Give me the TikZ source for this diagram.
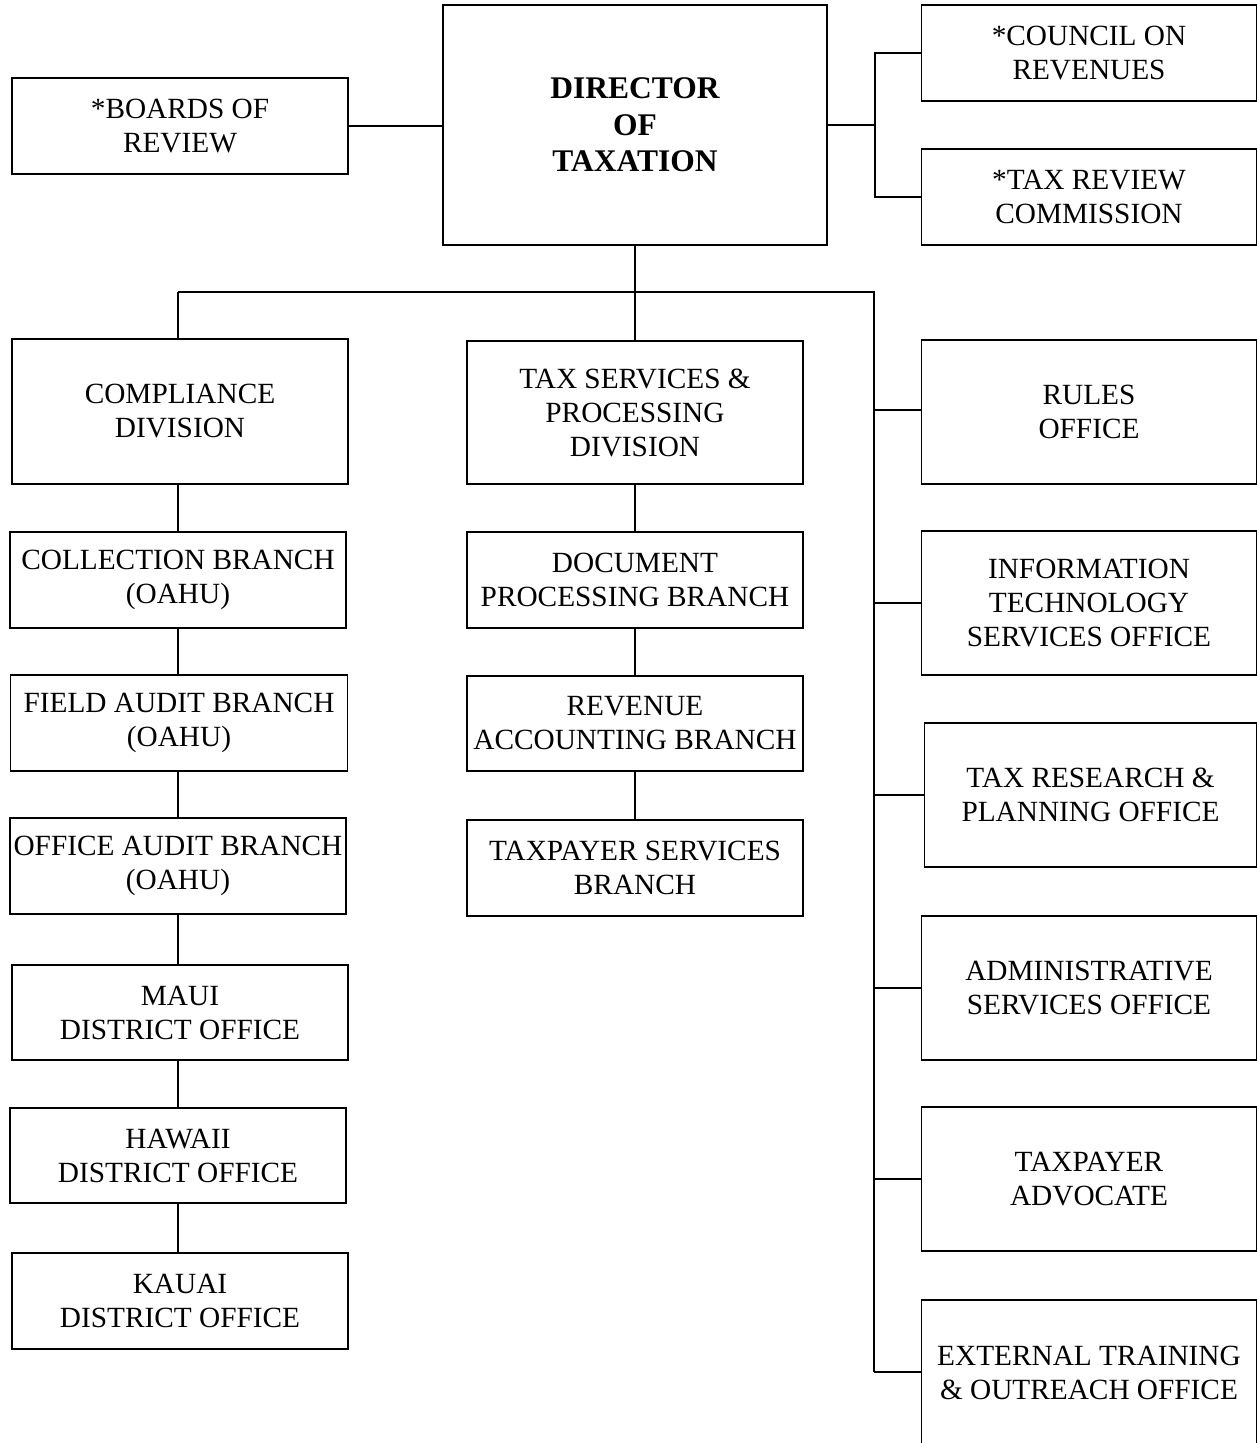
\documentclass[tikz,border=0pt]{standalone}
\usepackage{fontspec}
\setmainfont{Liberation Serif}
\begin{document}
\begin{tikzpicture}[x=1pt,y=-1pt,
  box/.style={draw=black,line width=1.6pt,inner sep=0pt,align=center,
    font=\fontsize{29.3}{34}\selectfont},
  conn/.style={draw=black,line width=1.5pt}]
\useasboundingbox (0,0) rectangle (1257,1443);
% top row
\node[box,minimum width=336pt,minimum height=96pt] (boards) at (180,126) {*BOARDS OF\\REVIEW};
\node[box,minimum width=384pt,minimum height=240pt,font=\fontsize{31.5}{36.5}\selectfont\bfseries] (director) at (635,125) {DIRECTOR\\OF\\TAXATION};
\node[box,minimum width=335pt,minimum height=96pt] (council) at (1089,53) {*COUNCIL ON\\REVENUES};
\node[box,minimum width=335pt,minimum height=96pt] (taxrev) at (1089,197) {*TAX REVIEW\\COMMISSION};
% left column
\node[box,minimum width=336pt,minimum height=145pt] (compliance) at (180,411.5) {COMPLIANCE\\DIVISION};
\node[box,minimum width=336pt,minimum height=96pt] (collection) at (178,580) {COLLECTION BRANCH\\(OAHU)};
\node[box,minimum width=337pt,minimum height=96pt] (field) at (179,723) {FIELD AUDIT BRANCH\\(OAHU)};
\node[box,minimum width=336pt,minimum height=96pt] (office) at (178,866) {OFFICE AUDIT BRANCH\\(OAHU)};
\node[box,minimum width=336pt,minimum height=95pt] (maui) at (180,1012.5) {MAUI\\DISTRICT OFFICE};
\node[box,minimum width=336pt,minimum height=95pt] (hawaii) at (178,1155.5) {HAWAII\\DISTRICT OFFICE};
\node[box,minimum width=336pt,minimum height=96pt] (kauai) at (180,1301) {KAUAI\\DISTRICT OFFICE};
% middle column
\node[box,minimum width=336pt,minimum height=143pt] (taxserv) at (635,412.5) {TAX SERVICES \&\\PROCESSING\\DIVISION};
\node[box,minimum width=336pt,minimum height=96pt] (document) at (635,580) {DOCUMENT\\PROCESSING BRANCH};
\node[box,minimum width=336pt,minimum height=95pt] (revenue) at (635,723.5) {REVENUE\\ACCOUNTING BRANCH};
\node[box,minimum width=336pt,minimum height=96pt] (taxpayer) at (635,868) {TAXPAYER SERVICES\\BRANCH};
% right column
\node[box,minimum width=335pt,minimum height=144pt] (rules) at (1089,412) {RULES\\OFFICE};
\node[box,minimum width=335pt,minimum height=144pt] (infotech) at (1089,603) {INFORMATION\\TECHNOLOGY\\SERVICES OFFICE};
\node[box,minimum width=332pt,minimum height=144pt] (research) at (1090.5,795) {TAX RESEARCH \&\\PLANNING OFFICE};
\node[box,minimum width=335pt,minimum height=144pt] (admin) at (1089,988) {ADMINISTRATIVE\\SERVICES OFFICE};
\node[box,minimum width=335pt,minimum height=144pt] (advocate) at (1089,1179) {TAXPAYER\\ADVOCATE};
\node[box,minimum width=335pt,minimum height=146pt] (external) at (1089,1373) {EXTERNAL TRAINING\\\& OUTREACH OFFICE};
% coordinates
\coordinate (rfork) at (875,125);
\coordinate (busL) at (178,292);
\coordinate (busR) at (874,292);
\coordinate (busEnd) at (874,1372);
% connectors top
\draw[conn] (boards.east) -- (director.west |- boards.east);
\draw[conn] (director.east |- rfork) -- (rfork);
\draw[conn] (council.west) -| (rfork);
\draw[conn] (taxrev.west) -| (rfork);
% main bus
\draw[conn] (director.south) -- (director.south |- busL);
\draw[conn] (busL) -- (busR) -- (busEnd);
\draw[conn] (busL) -- (busL |- compliance.north);
\draw[conn] (taxserv.north) -- (taxserv.north |- busL);
% left chain
\draw[conn] (compliance.south -| busL) -- (collection.north -| busL);
\draw[conn] (collection.south -| busL) -- (field.north -| busL);
\draw[conn] (field.south -| busL) -- (office.north -| busL);
\draw[conn] (office.south -| busL) -- (maui.north -| busL);
\draw[conn] (maui.south -| busL) -- (hawaii.north -| busL);
\draw[conn] (hawaii.south -| busL) -- (kauai.north -| busL);
% middle chain
\draw[conn] (taxserv.south) -- (document.north);
\draw[conn] (document.south) -- (revenue.north);
\draw[conn] (revenue.south) -- (taxpayer.north);
% right branches
\draw[conn] (rules.west |- 0,410) -- (busR |- 0,410);
\draw[conn] (infotech.west) -- (infotech.west -| busR);
\draw[conn] (research.west) -- (research.west -| busR);
\draw[conn] (admin.west) -- (admin.west -| busR);
\draw[conn] (advocate.west) -- (advocate.west -| busR);
\draw[conn] (external.west |- busEnd) -- (busEnd);
\end{tikzpicture}
\end{document}
